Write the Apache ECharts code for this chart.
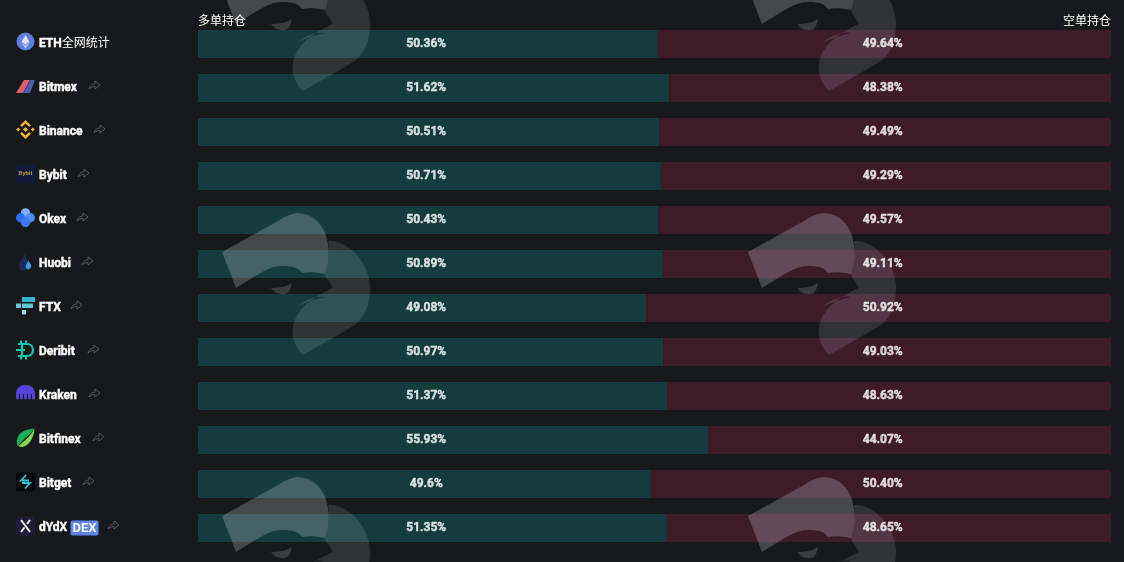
<!DOCTYPE html>
<html>
<head>
<meta charset="utf-8">
<style>html,body{margin:0;padding:0;background:#17181a}#c{width:1124px;height:562px}</style>
<script src="https://cdn.jsdelivr.net/npm/echarts@6/dist/echarts.min.js"></script>
</head>
<body>
<div id="c"></div>
<script>
const categories = ['ETH全网统计','Bitmex','Binance','Bybit','Okex','Huobi','FTX','Deribit','Kraken','Bitfinex','Bitget','dYdX'];
const longValues = [50.36,51.62,50.51,50.71,50.43,50.89,49.08,50.97,51.37,55.93,49.6,51.35];
const shortValues = [49.64,48.38,49.49,49.29,49.57,49.11,50.92,49.03,48.63,44.07,50.40,48.65];
const longLabels = ['50.36%','51.62%','50.51%','50.71%','50.43%','50.89%','49.08%','50.97%','51.37%','55.93%','49.6%','51.35%'];
const shortLabels = ['49.64%','48.38%','49.49%','49.29%','49.57%','49.11%','50.92%','49.03%','48.63%','44.07%','50.40%','48.65%'];
const shareArrowX = [null,89,94,78,77,82,71,88,89,93,83,108];

const FONT = 'Roboto, "Noto Sans CJK SC", sans-serif';
const BG = '#17181a', LONG = '#143c3f', SHORT = '#3d1c28';
const rowY = i => 44 + 44 * i;

const WM_A = 'M22,52 L78,21 Q88,14 97,13 C115,13 125,28 127,40 C130,52 129,62 125,74 C115,72 110,72 102,73 C98,68 95,66 82,66 C70,66 62,72 36,88 Z';
const WM_B = 'M128,41 C150,40 170,65 170,87 C170,105 165,120 150,128 L103,155 C95,148 91,135 93,127 C95,115 105,100 133,88 C130,82 125,77 125,74 C129,62 130,52 128,41 Z M97,106 C105,103 112,100 125,97 C118,96 107,98 97,106 Z';
const WM_C = 'M71,88 C80,88 88,86 92,83 C91,90 88,94 85,94 C78,95 74,92 71,88 Z';
const wmSpots = [[200,-64],[726,-64],[200,200],[726,200],[200,464],[726,464]];

const decor = [];
wmSpots.forEach(([x,y]) => {
  decor.push({type:'path',x,y,shape:{pathData:WM_A},style:{fill:'rgba(235,240,240,0.22)'}});
  decor.push({type:'path',x,y,shape:{pathData:WM_B},style:{fill:'rgba(225,235,240,0.13)'}});
  decor.push({type:'path',x,y,shape:{pathData:WM_C},style:{fill:'rgba(235,240,240,0.16)'}});
});

shareArrowX.forEach((x,i) => {
  if (x === null) return;
  decor.push({type:'path',x,y:rowY(i)-7,
    shape:{pathData:'M0,8 C1,4 4,3 6,3 L6,0 L11,4 L6,8 L6,5.5 C4,5.5 2,6 0,8 Z'},
    style:{fill:'none',stroke:'#6a6a6e',lineWidth:0.8}});
});

function icon(i, parts){
  parts.forEach(p => decor.push({type:'path',x:16,y:rowY(i)-12,shape:{pathData:p[0]},
    style:p[2]?{fill:'none',stroke:p[1],lineWidth:p[2]}:{fill:p[1]}}));
}
const circ=(x,y,r)=>`M${x-r},${y} A${r},${r} 0 1 1 ${x+r},${y} A${r},${r} 0 1 1 ${x-r},${y} Z`;
const rr=(x,y,w,h,r)=>`M${x+r},${y} L${x+w-r},${y} Q${x+w},${y} ${x+w},${y+r} L${x+w},${y+h-r} Q${x+w},${y+h} ${x+w-r},${y+h} L${x+r},${y+h} Q${x},${y+h} ${x},${y+h-r} L${x},${y+r} Q${x},${y} ${x+r},${y} Z`;
const dia=(x,y,r)=>`M${x},${y-r} L${x+r},${y} L${x},${y+r} L${x-r},${y} Z`;
icon(0,[[circ(9.5,9.5,9),'#5f7de0'],['M9.5,3 L13.5,10 L9.5,12.4 L5.5,10 Z','#dfe6fb'],['M9.5,13.5 L13.5,11 L9.5,16.5 L5.5,11 Z','#c4d0f6']]);
icon(1,[['M0,17 L8,4 L14,4 L7,17 Z','#d8636c'],['M7.5,17 L14.5,4 L19,4 L14,17 Z','#4e5bb0']]);
icon(2,[[`${dia(2.2,9.5,2)} ${dia(16.8,9.5,2)} ${dia(9.5,9.5,2.6)}`,'#efb52c'],
  ['M5,6.2 L9.5,1.8 L14,6.2 M5,12.8 L9.5,17.2 L14,12.8','#efb52c',2.4]]);
icon(3,[[rr(0,0.5,19,19,1),'#101a3b']]);
decor.push({type:'text',x:25.5,y:rowY(3)-2.5,style:{text:'Bybit',fill:'#b8973c',font:'bold 6px Roboto, sans-serif',textAlign:'center',textVerticalAlign:'middle'}});
icon(4,[[circ(9.5,4.9,4.7),'#7fb0f7'],[circ(4.7,9.7,4.7),'#2e6df0'],[circ(14.3,9.7,4.7),'#4f8af5'],[circ(9.5,14.5,4.7),'#3a78f2']]);
icon(5,[['M8,1 C9,5 12,6 12,11 C12,16 9,19 6,19 C3,18 3,13 4,10 C6,7 8,5 8,1 Z','#1b2a5c'],['M12,8 C13,11 16,12 15,15 C14,18 11,18 10,16 C9,13 12,11 12,8 Z','#3d9be0']]);
icon(6,[['M6,1 L19,1 L19,6 L6,6 Z','#2fb8cf'],['M0,7.5 L5,7.5 L5,12 L0,12 Z M6,7.5 L17,7.5 L17,12 L6,12 Z','#5ec7da'],['M6,14 L10,14 L10,18.5 L6,18.5 Z','#9adce6']]);
icon(7,[['M2,4 L11,4 C15,4 17,7 17,10 C17,13 15,16 11,16 L2,16 M6,4 L6,16 M5,0.5 L5,3 M10,0.5 L10,3 M5,17 L5,19.5 M10,17 L10,19.5 M0,10 L9,10','#13c8ad',2.2]]);
icon(8,[['M0,14 L0,10 C0,4 4,1 9.5,1 C15,1 19,4 19,10 L19,14 A1.5,1.5 0 0 1 16,14 L16,10 L15,10 L15,14 A1.5,1.5 0 0 1 12,14 L12,10 L11,10 L11,14 A1.5,1.5 0 0 1 8,14 L8,10 L7,10 L7,14 A1.5,1.5 0 0 1 4,14 L4,10 L3,10 L3,14 A1.5,1.5 0 0 1 0,14 Z','#5741d9']]);
icon(9,[['M18.5,0.5 C10,1 2,4 1,12 C0.5,15 1,17 2,18 C8,10 13,8 18.5,0.5 Z','#16b157'],['M18.5,0.5 C18,8 14,18 6,19 C4.5,19 3,18.5 2.5,18 C8,13 14,9 18.5,0.5 Z','#86d94f']]);
icon(10,[[rr(0,0.5,19,19,2),'#05090b'],['M10,3 L5,8.5 L13,8.5 M9,16.5 L14,11 L6,11','#31c4d4',1.8]]);
icon(11,[[rr(0,0.5,19,19,3),'#211c3b'],['M5,4 L14,16 M14,4 L11,8 M5,16 L8.5,11.5','#f2f2f7',2]]);

const hdr = (text, x, align) => ({type:'text',x,y:20,z:60,style:{text,fill:'#fff',font:'12px "Noto Sans CJK SC", sans-serif',textAlign:align,textVerticalAlign:'middle'}});

const heavy = {textBorderColor:'#fff',textBorderWidth:0.4};
const labelRich = {
  nm:Object.assign({color:'#fff',fontWeight:700,fontSize:12,fontFamily:FONT},heavy),
  cjk:{color:'#fff',fontWeight:400,fontSize:12,fontFamily:FONT},
  dex:{color:'#fff',fontWeight:700,fontSize:13,fontFamily:FONT,backgroundColor:'#5f83e8',borderRadius:2,padding:[2,2,0,2]}
};
const labelSeries = (name, pos, texts) => ({
  name,type:'scatter',symbolSize:0,z:70,silent:true,
  data:categories.map((c,i)=>[pos,c]),
  label:Object.assign({show:true,position:'inside',color:'#fff',fontSize:12,fontWeight:700,fontFamily:FONT,
    formatter:p=>texts[p.dataIndex]},heavy)
});

const chart = echarts.init(document.getElementById('c'));
chart.setOption({
  animation:false,
  backgroundColor:BG,
  grid:{left:198,right:13,top:22,bottom:12,containLabel:false},
  xAxis:{type:'value',min:0,max:100,show:false},
  yAxis:{type:'category',inverse:true,data:categories,
    axisLine:{show:false},axisTick:{show:false},splitLine:{show:false},
    axisLabel:{align:'left',margin:159,interval:0,rich:labelRich,color:'#fff',
      formatter:v=>{
        if(v==='ETH全网统计') return '{nm|ETH}{cjk|全网统计}';
        if(v==='dYdX') return '{nm|dYdX} {dex|DEX}';
        return '{nm|'+v+'}';
      }}},
  series:[
    {name:'多单持仓',type:'bar',stack:'t',barWidth:28,data:longValues,itemStyle:{color:LONG},silent:true},
    {name:'空单持仓',type:'bar',stack:'t',barWidth:28,data:shortValues,itemStyle:{color:SHORT},silent:true},
    {name:'装饰',type:'custom',coordinateSystem:'none',z:50,silent:true,data:[[0]],
      renderItem:()=>({type:'group',children:decor})},
    labelSeries('多单标签',25,longLabels),
    labelSeries('空单标签',75,shortLabels)
  ],
  graphic:{elements:[hdr('多单持仓',198,'left'),hdr('空单持仓',1111,'right')]}
});
</script>
</body>
</html>
